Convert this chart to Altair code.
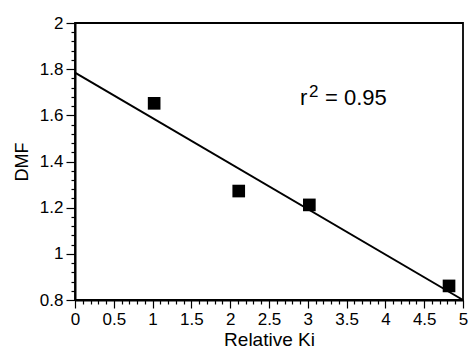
import altair as alt
import pandas as pd

# data points
ki = [1.02, 2.11, 3.02, 4.82]
dmf = [1.652, 1.272, 1.212, 0.861]

# regression line end points
fit_x = [0.0, 5.0]
fit_y = [1.785, 0.80]

# annotation
ann_text = ["r", "2", "= 0.95"]
ann_x = [2.899, 3.015, 3.222]
ann_y = [1.643, 1.679, 1.643]
ann_size = [22, 17, 22]

x_ticks = [round(i * 0.1, 2) for i in range(0, 51)]
y_ticks = [round(0.8 + i * 0.04, 2) for i in range(0, 31)]

pts = pd.DataFrame({"ki": ki, "dmf": dmf})
fit = pd.DataFrame({"ki": fit_x, "dmf": fit_y})
ann = pd.DataFrame({"t": ann_text, "ki": ann_x, "dmf": ann_y, "s": ann_size})

FONT = "Liberation Sans"

x_major = "abs(round(datum.value*2) - datum.value*2) < 0.001"
y_major = "abs(round(datum.value*5) - datum.value*5) < 0.001"

xscale = alt.Scale(domain=[0, 5], nice=False, zero=False)
yscale = alt.Scale(domain=[0.8, 2], nice=False, zero=False)

xaxis = alt.Axis(
    values=x_ticks,
    labelExpr=f"({x_major}) ? format(datum.value, '~g') : ''",
    tickSize={"condition": {"test": x_major, "value": 8}, "value": 4},
    tickColor="black", tickWidth=1.2,
    domainColor="black", domainWidth=2,
    labelFont=FONT, labelFontSize=17, labelColor="black",
    labelPadding=3, labelFlush=False, labelOverlap=False,
    title="Relative Ki", titleFont=FONT, titleFontSize=19,
    titleFontWeight="normal", titleColor="black", titlePadding=3,
    grid=False,
)
yaxis = alt.Axis(
    values=y_ticks,
    labelExpr=f"({y_major}) ? format(datum.value, '~g') : ''",
    tickSize={"condition": {"test": y_major, "value": 9}, "value": 4},
    tickColor="black", tickWidth=1.2,
    domainColor="black", domainWidth=2,
    labelFont=FONT, labelFontSize=17, labelColor="black",
    labelPadding=3, labelFlush=False, labelOverlap=False,
    title="DMF", titleFont=FONT, titleFontSize=18,
    titleFontWeight="normal", titleColor="black", titlePadding=8,
    grid=False,
)

X = alt.X("ki:Q", scale=xscale, axis=xaxis)
Y = alt.Y("dmf:Q", scale=yscale, axis=yaxis)

line = alt.Chart(fit).mark_line(color="black", strokeWidth=2, clip=False).encode(x=X, y=Y)

points = alt.Chart(pts).mark_square(color="black", size=160, opacity=1).encode(x=X, y=Y)

text = alt.Chart(ann).mark_text(align="left", baseline="alphabetic", font=FONT, color="black").encode(
    x=X, y=Y, text="t:N", size=alt.Size("s:Q", scale=None, legend=None)
)

chart = (
    alt.layer(line, points, text)
    .properties(
        width=388, height=277,
        autosize=alt.AutoSizeParams(type="none"),
        padding={"left": 75, "top": 23, "right": 6, "bottom": 53},
        background="white",
    )
    .configure_view(stroke="black", strokeWidth=1.8)
)

chart.save("out.html", embed_options={"renderer": "svg", "actions": False})
